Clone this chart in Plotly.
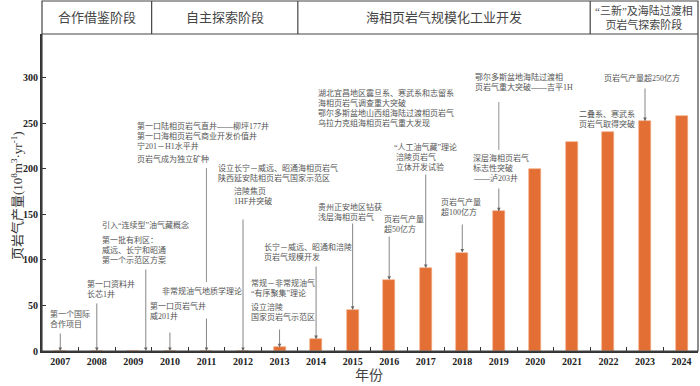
import plotly.graph_objects as go

# shale gas output by year, 10^8 m3/yr
years = ["2007", "2008", "2009", "2010", "2011", "2012", "2013", "2014", "2015",
         "2016", "2017", "2018", "2019", "2020", "2021", "2022", "2023", "2024"]
production = [0, 0, 0, 0, 0, 0, 4, 13, 45, 78, 91, 108, 153, 200, 229, 240, 252, 258]

stages = ["合作借鉴阶段", "自主探索阶段", "海相页岩气规模化工业开发",
          "“三新”及海陆过渡相<br>页岩气探索阶段"]
stage_edges = [-0.5, 2.5, 6.5, 14.5, 17.45]

# milestone notes: left x (px), first line y (px), text lines
notes = [
    (48, 314, ["第一个国际", "合作项目"]),
    (85, 284, ["第一口资料井", "长芯1井"]),
    (100, 225, ["引入“连续型”油气藏概念"]),
    (100, 240, ["第一批有利区：", "威远、长宁和昭通", "第一个示范区方案"]),
    (148, 306, ["第一口页岩气井", "威201井"]),
    (160, 291, ["非常规油气地质学理论"]),
    (135, 126, ["第一口陆相页岩气直井——柳坪177井", "第一口海相页岩气商业开发价值井", "宁201－H1水平井"]),
    (135, 159, ["页岩气成为独立矿种"]),
    (216, 168, ["设立长宁－威远、昭通海相页岩气", "陕西延安陆相页岩气国家示范区"]),
    (232, 191, ["涪陵焦页", "1HF井突破"]),
    (249, 283, ["常规－非常规油气", "“有序聚集”理论"]),
    (249, 307, ["设立涪陵", "国家页岩气示范区"]),
    (262, 247, ["长宁－威远、昭通和涪陵", "页岩气规模开发"]),
    (316, 207, ["贵州正安地区钻获", "浅层海相页岩气"]),
    (382, 219, ["页岩气产量", "超50亿方"]),
    (316, 93, ["湖北宜昌地区震旦系、寒武系和志留系", "海相页岩气调查重大突破"]),
    (316, 113, ["鄂尔多斯盆地山西组海陆过渡相页岩气", "乌拉力克组海相页岩气重大发现"]),
    (393, 147, ["“人工油气藏”理论"]),
    (395, 157, ["涪陵页岩气", "立体开发试验"]),
    (440, 202, ["页岩气产量", "超100亿方"]),
    (472, 158, ["深层海相页岩气", "标志性突破", "——泸203井"]),
    (474, 77, ["鄂尔多斯盆地海陆过渡相", "页岩气重大突破——吉平1H"]),
    (578, 114, ["二叠系、寒武系", "页岩气取得突破"]),
    (603, 78, ["页岩气产量超250亿方"]),
]

# arrows: category position, tail y (px); head lands on bar top / axis
arrows = [(0, 332), (1, 302), (2.34, 268), (3, 331), (4, 317), (5, 218),
          (6, 328), (7, 265), (8, 222), (9, 235), (10, 173), (11, 223),
          (12, 187), (16, 87)]
# plain connector lines: category position, y from/to (px)
plain_lines = [(4, 168, 282), (12, 102, 150)]

# pixel -> axis helpers (plot area 42..698 x 34..351)
def xd(px):
    return (px - 42) / 36.6 - 0.5

def yd(py):
    return (351 - py) / 0.912

FONT = "Liberation Serif, Noto Sans CJK SC"
GREY = "#555"

fig = go.Figure()
fig.add_trace(go.Bar(x=years, y=production, width=0.33, hoverinfo="skip",
                     marker=dict(color="#E36F35", line=dict(color="#F2A77C", width=0.6))))

ann = []
for x, y, lines in notes:
    for i, t in enumerate(lines):
        ann.append(dict(x=xd(x), y=yd(y + i * 10), text=t, showarrow=False,
                        xanchor="left", yanchor="middle",
                        font=dict(size=8, color=GREY, family=FONT)))

for x, tail in arrows:
    head = production[int(round(x))]
    ann.append(dict(x=x, y=head, ax=x, ay=yd(tail), axref="x", ayref="y",
                    text="", showarrow=True, arrowhead=2, arrowsize=0.9,
                    arrowwidth=0.8, arrowcolor="#666", standoff=0))

# header cells
H = 1 + 33 / 317
for i, s in enumerate(stages):
    mid = (stage_edges[i] + stage_edges[i + 1]) / 2
    ann.append(dict(x=mid, y=(1 + H) / 2, xref="x", yref="paper", text=s,
                    xanchor="center", yanchor="middle", showarrow=False,
                    font=dict(size=13 if i < 3 else 11, color="#444", family=FONT)))

ann.append(dict(x=-0.039, y=0.49, xref="paper", yref="paper", textangle=-90,
                xanchor="center", yanchor="middle",
                text="页岩气产量(10<sup>8</sup>m<sup>3</sup>·yr<sup>-1</sup>)",
                showarrow=False, font=dict(size=13, color="#333", family=FONT)))
ann.append(dict(x=0.499, y=-0.076, xref="paper", yref="paper", text="年份",
                xanchor="center", yanchor="middle",
                showarrow=False, font=dict(size=14, color="#444", family=FONT)))

shapes = [
    dict(type="rect", xref="paper", yref="paper", x0=0, x1=1, y0=0, y1=H,
         line=dict(color="#444", width=1.2)),
    dict(type="line", xref="paper", yref="paper", x0=0, x1=1, y0=1, y1=1,
         line=dict(color="#444", width=1.2)),
]
for e in stage_edges[1:-1]:
    shapes.append(dict(type="line", xref="x", yref="paper", x0=e, x1=e, y0=1, y1=H,
                       line=dict(color="#444", width=1.2)))
for x, y0, y1 in plain_lines:
    shapes.append(dict(type="line", xref="x", yref="y", x0=x, x1=x, y0=yd(y0), y1=yd(y1),
                       line=dict(color="#777", width=0.8)))

fig.update_layout(
    width=700, height=386,
    margin=dict(l=42, r=2, t=34, b=35),
    plot_bgcolor="white", paper_bgcolor="white",
    showlegend=False, bargap=0,
    annotations=ann, shapes=shapes,
    xaxis=dict(type="category", range=[-0.5, 17.45], showgrid=False,
               showline=True, linecolor="#333", linewidth=2,
               ticks="inside", tickson="boundaries", ticklen=4, tickcolor="#333",
               tickfont=dict(size=10, color="#222", family="Liberation Serif", weight="bold")),
    yaxis=dict(range=[0, 347.6], showgrid=False, zeroline=False,
               tickvals=[0, 50, 100, 150, 200, 250, 300],
               showline=True, linecolor="#333", linewidth=2,
               ticks="inside", ticklen=4, tickcolor="#333",
               tickfont=dict(size=10, color="#222", family="Liberation Serif", weight="bold")),
)

# drop the page's default body margin so the chart sits at the window origin
fig.write_html("out.html", config={"displayModeBar": False},
               post_script="document.body.style.margin='0';")
